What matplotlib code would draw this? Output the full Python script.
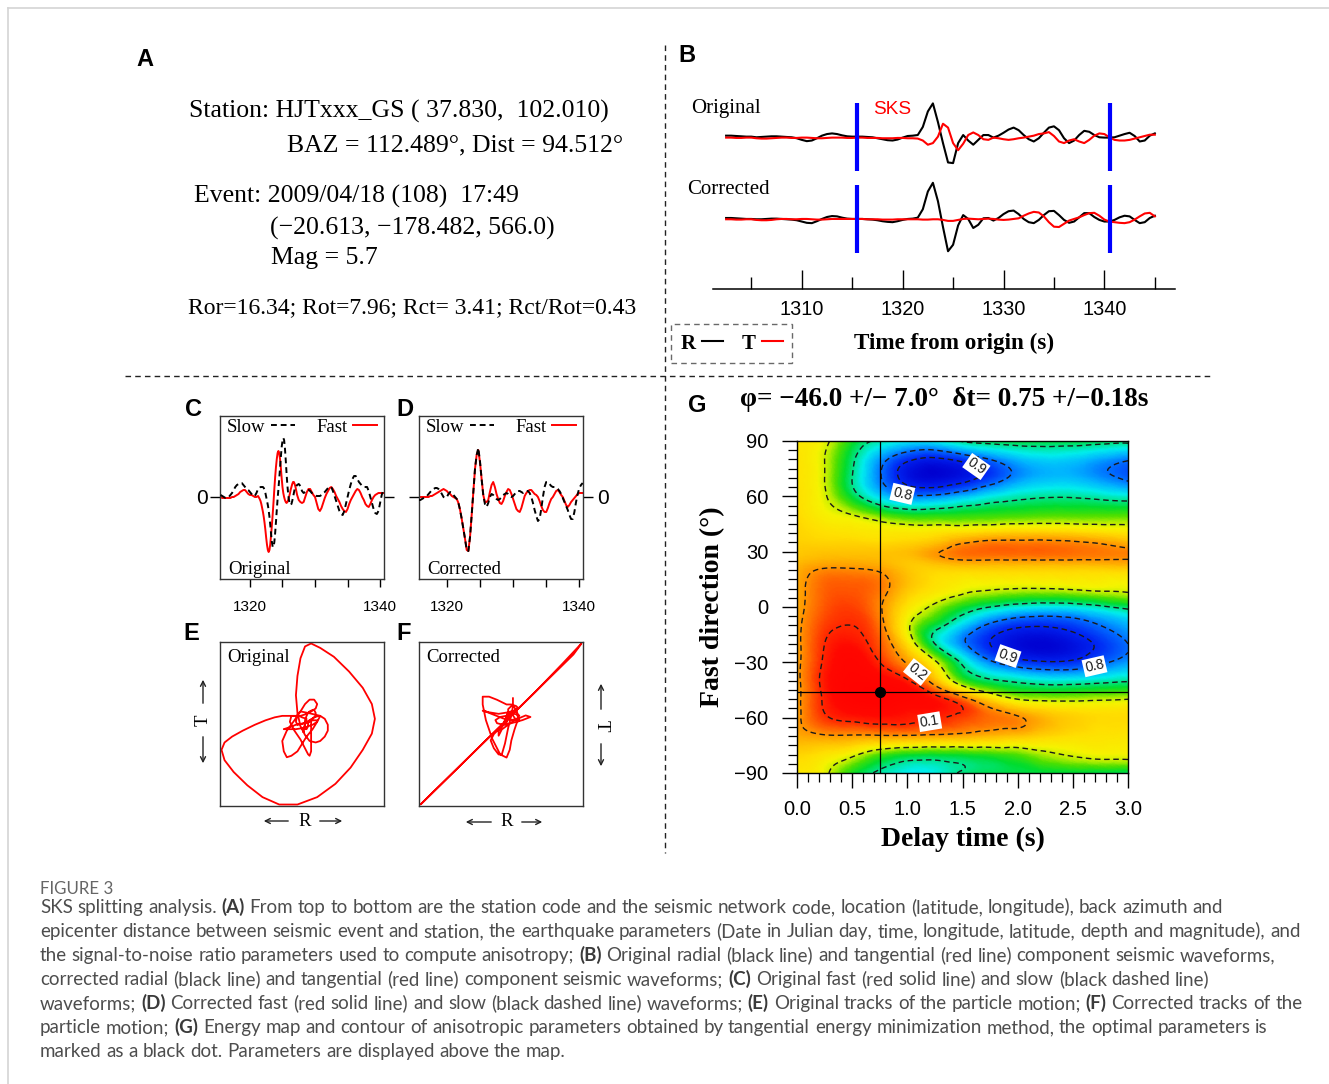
import numpy as np
import matplotlib
matplotlib.use('Agg')
import matplotlib.pyplot as plt
from matplotlib.lines import Line2D
from matplotlib.patches import FancyArrowPatch
from matplotlib.colors import LinearSegmentedColormap
from matplotlib.ticker import MultipleLocator, FormatStrFormatter
import matplotlib.tri as mtri

W, H = 1329, 1084
SERIF = 'Liberation Serif'
SANS = 'Liberation Sans'
CAPF = 'Lato'

# ---------------- DATA ----------------
# Panel A
STATION = 'Station: HJTxxx_GS ( 37.830,  102.010)'
BAZ_DIST = 'BAZ = 112.489°, Dist = 94.512°'
EVENT = 'Event: 2009/04/18 (108)  17:49'
HYPO = '(−20.613, −178.482, 566.0)'
MAG = 'Mag = 5.7'
SNR = 'Ror=16.34; Rot=7.96; Rct= 3.41; Rct/Rot=0.43'

# Panel B : waveforms sampled every 0.5 s from 1302.5 s
B_T0, B_DT = 1302.5, 0.5
ORIG_R = [3, 3, 2, 1, 0, 0, -2, -1, 0, 1, 1, 0, -1, -2, -5, -10, -14, -12, -5, 3,
          8, 10, 8, 4, 1, 0, 0, 0, -1, -2, -5, -8, -11, -12, -9, -3, 2, 3, 5, 30,
          78, 103, 45, -20, -80, -82, -20, 5, -12, -25, -10, 5, 5, -3, 3, 12, 22, 28, 20, 5,
          -8, -15, -5, 12, 28, 32, 20, -5, -20, -12, 5, 18, 15, 5, -2, -3, -3, -2, 3, 8,
          12, 2, -15, -12, 3, 10]
ORIG_T = [-3, -3, -4, -4, -3, -3, -5, -6, -6, -5, -4, -3, -3, -4, -4, -3, -3, -4, -5, -5,
          -4, -3, -3, -3, -4, -4, -3, -3, -4, -4, -4, -5, -5, -5, -4, -4, -5, -5, -6, -12,
          -25, -20, 0, 40, 28, -20, -42, -22, 5, 13, 5, -8, -10, -3, -5, -8, -10, -8, -5, -3,
          0, 3, 8, 10, 14, 2, -15, -20, -12, -8, -15, -20, -10, 3, 10, 8, -2, -10, -12, -12,
          -10, -6, -2, 2, 6, 6]
CORR_R = [3, 3, 2, 1, 0, 0, -1, -1, 0, 1, 1, 0, -1, -2, -4, -8, -12, -13, -7, 0,
          6, 9, 8, 4, 1, 0, 0, 0, -1, -2, -4, -7, -9, -10, -7, -3, 0, 1, 4, 30,
          85, 112, 55, -25, -100, -80, -20, 12, 0, -28, -18, 2, 3, -5, 3, 15, 24, 26, 15, 0,
          -10, -13, -3, 12, 24, 25, 12, -3, -12, -8, 5, 18, 18, 6, -3, -8, -8, -3, 5, 10,
          8, -3, -13, -10, 3, 10]
CORR_T = [-1, -1, -2, -2, -1, -1, -3, -4, -4, -3, -1, 0, 0, -1, -1, 0, 0, -1, -2, -2,
          -1, 0, 0, 0, 0, 0, 0, 0, -1, -1, -1, -2, -2, -2, -1, -1, -1, -1, -1, -2,
          -2, -1, -1, -3, -6, -6, -3, 0, 1, 0, -1, 0, 1, 0, -2, -3, -2, 0, 2, 10,
          17, 22, 20, 8, -10, -24, -25, -15, -5, 0, 5, 12, 18, 19, 10, -2, -8, -10, -12, -13,
          -10, -2, 8, 17, 19, 8]
WINDOW = [1315.5, 1340.6]

# Panel C : original fast / slow. Sampled every 0.25 s, but every 0.125 s
# across the SKS pulse (1321.5-1327.0 s)
C_SEGMENTS = [(1315.5, 0.25, 24), (1321.5, 0.125, 44), (1327.0, 0.25, 55)]
C_FAST = [0, -1, -1, -1, -1, -1, -1, 0, 0, 1, 2, 3, 5, 6, 7, 7, 5, 3, 2, 2, 1, 0, 0, 1,
          -2, -4, -7, -11, -15, -20, -26, -33, -41, -48, -53, -55, -53, -47, -38, -28, -17, -5, 8, 20,
          30, 38, 44, 46, 44, 38, 29, 19, 10, 4, 0, -3, -5, -6, -5, -3, 0, 3, 7, 10, 13, 15, 15, 13,
          10, 2, -3, -5, -6, -5, 0, 5, 8, 8, 5, 2, 0, -6, -12, -14, -11, -6, -1, 3, 6, 9, 10, 8,
          5, 1, -2, -5, -9, -12, -14, -15, -12, -7, -3, 0, 3, 6, 8, 7, 4, 0, -3, -7, -9, -10, -7, -3,
          0, 2, 3, 4, 4, 4, 4]
C_SLOW = [2, 1, 0, -1, -1, 0, 2, 4, 7, 10, 12, 13, 14, 14, 12, 10, 8, 7, 5, 3, 1, 1, 4, 8,
          9, 10, 10, 10, 10, 9, 7, 4, 0, -4, -8, -13, -20, -28, -37, -45, -50, -50, -45, -36,
          -25, -13, -2, 8, 18, 29, 40, 50, 56, 59, 57, 49, 37, 24, 12, 3, -3, -7, -8, -7, -4, 0, 4, 8,
          10, 12, 13, 11, 6, 4, 5, 7, 7, 6, 4, 3, 2, 1, 1, 1, 2, 4, 5, 7, 9, 10, 10, 6,
          1, -4, -9, -14, -17, -18, -14, -7, 0, 7, 13, 18, 21, 21, 18, 15, 13, 11, 10, 10, 10, 6,
          0, -6, -12, -16, -17, -14, -6, 2, 7]

# Panel D : corrected fast / slow, every 0.25 s from 1315.75 s
D_T0, D_DT = 1315.75, 0.25
D_FAST = [0, 0, 0, 0, 0, 0, 0, 1, 1, 2, 3, 4, 5, 6, 7, 8, 7, 6, 4, 3,
          1, 0, -1, -2, -6, -13, -22, -32, -42, -53, -54, -40, -18, 5, 28, 42, 47, 35, 18, 2,
          -5, -5, -3, 5, 12, 15, 10, 3, -2, -6, -7, -4, 1, 5, 8, 7, 3, -2, -7, -12,
          -14, -15, -11, -5, 1, 4, 6, 7, 7, 5, 3, 2, 0, -4, -9, -13, -15, -15, -11, -6,
          -2, 0, 3, 6, 7, 5, 2, 0, -4, -8, -10, -8, -5, -3, -1, 1, 3, 4, 4, 4]
D_SLOW = [-3, -3, -2, -1, 0, 1, 3, 5, 7, 8, 9, 9, 8, 6, 3, 0, -1, 0, 3, 5,
          4, 2, 0, -2, -6, -13, -22, -32, -42, -53, -54, -40, -18, 5, 28, 42, 49, 36, 18, 2,
          -7, -10, -6, 0, 3, 2, 0, -2, -3, -2, 0, 2, 3, 4, 3, 1, 0, 1, 3, 5,
          6, 6, 5, 4, 5, 6, 6, 4, 0, -6, -13, -19, -24, -22, -12, 0, 10, 15, 15, 13,
          11, 10, 10, 9, 8, 6, 3, -1, -5, -9, -13, -18, -22, -22, -15, -5, 3, 9, 12, 14]

# Panel G : normalised tangential energy grid
DT = [0.0, 0.25, 0.5, 0.75, 1.0, 1.25, 1.5, 1.75, 2.0, 2.25, 2.5, 2.75, 3.0]
PHI = [90, 80, 70, 60, 50, 40, 35, 30, 25, 20, 10, 0, -10, -20, -30, -40, -50, -60, -70, -80, -90]
ENERGY = [
    [0.34, 0.38, 0.52, 0.62, 0.67, 0.66, 0.59, 0.56, 0.55, 0.55, 0.55, 0.56, 0.57],
    [0.33, 0.40, 0.58, 0.76, 0.88, 0.92, 0.87, 0.80, 0.73, 0.70, 0.71, 0.75, 0.79],
    [0.33, 0.40, 0.60, 0.79, 0.94, 0.98, 0.94, 0.86, 0.77, 0.73, 0.73, 0.77, 0.82],
    [0.32, 0.39, 0.55, 0.70, 0.78, 0.78, 0.73, 0.67, 0.63, 0.61, 0.61, 0.63, 0.65],
    [0.31, 0.36, 0.40, 0.47, 0.52, 0.52, 0.51, 0.50, 0.49, 0.48, 0.48, 0.48, 0.48],
    [0.30, 0.32, 0.33, 0.34, 0.34, 0.33, 0.31, 0.29, 0.28, 0.28, 0.29, 0.31, 0.33],
    [0.29, 0.30, 0.30, 0.31, 0.30, 0.27, 0.21, 0.18, 0.18, 0.18, 0.19, 0.21, 0.25],
    [0.28, 0.27, 0.27, 0.27, 0.26, 0.21, 0.16, 0.15, 0.15, 0.15, 0.16, 0.17, 0.18],
    [0.26, 0.24, 0.24, 0.25, 0.27, 0.24, 0.21, 0.21, 0.21, 0.21, 0.21, 0.21, 0.21],
    [0.24, 0.19, 0.19, 0.21, 0.27, 0.30, 0.30, 0.30, 0.30, 0.30, 0.30, 0.30, 0.30],
    [0.23, 0.15, 0.14, 0.17, 0.27, 0.33, 0.37, 0.39, 0.40, 0.40, 0.39, 0.38, 0.38],
    [0.23, 0.14, 0.12, 0.19, 0.33, 0.42, 0.52, 0.60, 0.65, 0.67, 0.66, 0.62, 0.57],
    [0.22, 0.12, 0.10, 0.17, 0.38, 0.55, 0.70, 0.82, 0.88, 0.89, 0.86, 0.80, 0.74],
    [0.22, 0.10, 0.07, 0.14, 0.32, 0.60, 0.78, 0.90, 0.97, 0.99, 0.95, 0.88, 0.80],
    [0.22, 0.09, 0.04, 0.10, 0.21, 0.38, 0.62, 0.78, 0.86, 0.89, 0.88, 0.82, 0.76],
    [0.22, 0.08, 0.03, 0.04, 0.09, 0.25, 0.48, 0.58, 0.62, 0.65, 0.65, 0.63, 0.61],
    [0.22, 0.09, 0.03, 0.02, 0.04, 0.07, 0.16, 0.30, 0.40, 0.42, 0.42, 0.41, 0.40],
    [0.22, 0.11, 0.08, 0.07, 0.08, 0.09, 0.12, 0.16, 0.19, 0.25, 0.29, 0.31, 0.31],
    [0.23, 0.21, 0.21, 0.21, 0.21, 0.22, 0.23, 0.25, 0.27, 0.30, 0.32, 0.33, 0.34],
    [0.30, 0.33, 0.38, 0.47, 0.52, 0.53, 0.52, 0.50, 0.47, 0.42, 0.39, 0.37, 0.37],
    [0.34, 0.38, 0.52, 0.62, 0.67, 0.66, 0.59, 0.56, 0.55, 0.55, 0.55, 0.56, 0.57],
]
PLAIN_LEVELS = [0.4, 0.6]
LABELED_LEVELS = [0.1, 0.2, 0.8, 0.9]
BEST_PHI, ERR_PHI = -46.0, 7.0
BEST_DT, ERR_DT = 0.75, 0.18

CAPTION_TITLE = 'FIGURE 3'
CAPTION = [
    'SKS splitting analysis. (A) From top to bottom are the station code and the seismic network code, location (latitude, longitude), back azimuth and',
    'epicenter distance between seismic event and station, the earthquake parameters (Date in Julian day, time, longitude, latitude, depth and magnitude), and',
    'the signal-to-noise ratio parameters used to compute anisotropy; (B) Original radial (black line) and tangential (red line) component seismic waveforms,',
    'corrected radial (black line) and tangential (red line) component seismic waveforms; (C) Original fast (red solid line) and slow (black dashed line)',
    'waveforms; (D) Corrected fast (red solid line) and slow (black dashed line) waveforms; (E) Original tracks of the particle motion; (F) Corrected tracks of the',
    'particle motion; (G) Energy map and contour of anisotropic parameters obtained by tangential energy minimization method, the optimal parameters is',
    'marked as a black dot. Parameters are displayed above the map.',
]

# ---------------- FIGURE ----------------
fig = plt.figure(figsize=(W / 100, H / 100), dpi=100)
fig.patch.set_facecolor('white')


def fx(x):
    return x / W


def fy(y):
    return 1 - y / H


def add_ax(l, t, r, b):
    return fig.add_axes([l / W, 1 - b / H, (r - l) / W, (b - t) / H])


def ftext(x, y, s, **kw):
    kw.setdefault('va', 'center')
    return fig.text(fx(x), fy(y), s, **kw)


def fline(x1, y1, x2, y2, **kw):
    fig.add_artist(Line2D([fx(x1), fx(x2)], [fy(y1), fy(y2)], transform=fig.transFigure, **kw))


def farrow(x1, y1, x2, y2):
    fig.add_artist(FancyArrowPatch((fx(x1), fy(y1)), (fx(x2), fy(y2)), transform=fig.transFigure,
                                   arrowstyle='->', mutation_scale=9, lw=1.0, color='#222222'))


# card border
fline(8, 8, W, 8, color='#d4d4d4', lw=1.2)
fline(8, 8, 8, H, color='#d4d4d4', lw=1.2)

# dashed dividers
fline(665, 45, 665, 853, color='#222222', lw=1.0, ls=(0, (4, 3)))
fline(125, 376, 1212, 376, color='#222222', lw=1.0, ls=(0, (4, 3)))

# panel letters
for s, x, y in [('A', 145, 60), ('B', 687, 56), ('C', 194, 410), ('D', 405, 410),
                ('E', 191, 634), ('F', 404, 634), ('G', 697, 406)]:
    ftext(x, y, s, family=SANS, weight='bold', fontsize=17, ha='center')

# ---- Panel A ----
ftext(189, 111, STATION, family=SERIF, fontsize=18.5)
ftext(287, 145, BAZ_DIST, family=SERIF, fontsize=18.5)
ftext(194, 196, EVENT, family=SERIF, fontsize=18.5)
ftext(270, 228, HYPO, family=SERIF, fontsize=18.5)
ftext(271, 258, MAG, family=SERIF, fontsize=18.5)
ftext(188, 308, SNR, family=SERIF, fontsize=17)

# ---- Panel B ----
axB = add_ax(713, 95, 1175, 289)
tB = B_T0 + B_DT * np.arange(len(ORIG_R))
OFF_O, OFF_C = 0.0, -255.0
lR, = axB.plot(tB, np.array(ORIG_R) + OFF_O, color='k', lw=1.5)
lT, = axB.plot(tB, np.array(ORIG_T) + OFF_O, color='#ff0000', lw=1.5)
axB.plot(tB, np.array(CORR_R) + OFF_C, color='k', lw=1.5)
axB.plot(tB, np.array(CORR_T) + OFF_C, color='#ff0000', lw=1.5)
for off in (OFF_O, OFF_C):
    axB.vlines(WINDOW, off - 107, off + 104, color='#0000ff', lw=3.0, zorder=4)
axB.set_xlim(1301.2, 1347.0)
axB.set_ylim(-472, 129)
for sp in ('top', 'left', 'right'):
    axB.spines[sp].set_visible(False)
axB.spines['bottom'].set_linewidth(1.1)
axB.set_yticks([])
axB.xaxis.set_major_locator(MultipleLocator(10))
axB.xaxis.set_minor_locator(MultipleLocator(5))
axB.tick_params(axis='x', which='major', direction='in', length=14, width=1.0, labelsize=14.3, pad=8)
axB.tick_params(axis='x', which='minor', direction='in', length=9, width=1.0)
for lab in axB.get_xticklabels():
    lab.set_family(SANS)
axB.patch.set_alpha(0)
axB.set_xlabel('Time from origin (s)', family=SERIF, weight='bold', fontsize=16.7, va='center')
axB.xaxis.set_label_coords((954 - 713) / 462, -(343 - 289) / 194)
ftext(691, 108, 'Original', family=SERIF, fontsize=15)
ftext(687, 189, 'Corrected', family=SERIF, fontsize=15)
ftext(873, 109, 'SKS', family=SANS, fontsize=13.7, color='#ff0000')
legB = fig.legend(handles=[lR, lT], labels=['R', 'T'], loc='center', bbox_to_anchor=(fx(731.5), fy(343.5)),
                  ncol=2, markerfirst=False, frameon=True, fancybox=False, edgecolor='#444444',
                  prop=dict(family=SERIF, weight='bold', size=15), handlelength=1.0, handletextpad=0.3,
                  columnspacing=0.9, borderpad=0.45)
legB.get_frame().set_linestyle((0, (4, 3)))
legB.get_frame().set_linewidth(1.0)


# ---- Panels C, D ----
def wave_panel(box, t, fast, slow, xlim, zero_side, label, label_x):
    ax = add_ax(*box)
    lf, = ax.plot(t, fast, color='#ff0000', lw=1.4, zorder=2)
    ls, = ax.plot(t, slow, color='k', lw=1.4, dashes=(3.0, 2.0), zorder=3)
    ax.set_xlim(*xlim)
    ax.set_ylim(-82, 81)
    xt = [1320, 1325, 1330, 1335, 1340]
    ax.set_xticks(xt, labels=[str(v) if v in (1320, 1340) else '' for v in xt])
    ax.tick_params(axis='x', direction='out', length=6, width=1.0, labelsize=11, pad=9)
    ax.set_yticks([0], labels=['0'])
    ax.tick_params(axis='y', direction='out', length=7, width=1.0, labelsize=15, left=True, right=True,
                   labelleft=(zero_side == 'left'), labelright=(zero_side == 'right'),
                   pad=1.5 if zero_side == 'left' else 3)
    for lab in ax.get_xticklabels() + ax.get_yticklabels():
        lab.set_family(SANS)
    for sp in ax.spines.values():
        sp.set_color('#333333')
        sp.set_linewidth(1.0)
    ax.legend(handles=[ls, lf], labels=['Slow', 'Fast'], loc='upper center', ncol=2, markerfirst=False,
              frameon=False, prop=dict(family=SERIF, size=13.5), handlelength=1.3, handletextpad=0.3,
              columnspacing=1.1, borderaxespad=0.0, borderpad=0.15)
    ftext(label_x, 569, label, family=SERIF, fontsize=13.5)
    return ax


tC = np.concatenate([s + d * np.arange(n) for s, d, n in C_SEGMENTS])
tD = D_T0 + D_DT * np.arange(len(D_FAST))
wave_panel((220, 416, 384, 579), tC, C_FAST, C_SLOW, (1315.4, 1340.6), 'left', 'Original', 228)
wave_panel((419, 416, 583, 579), tD, D_FAST, D_SLOW, (1315.8, 1340.55), 'right', 'Corrected', 427)


# ---- Panels E, F ----
def pm_panel(box, fast, slow, xlim, ylim, label, label_x):
    ax = add_ax(*box)
    ax.plot(fast, slow, color='#ff0000', lw=1.3)
    ax.set_xlim(*xlim)
    ax.set_ylim(*ylim)
    ax.set_xticks([])
    ax.set_yticks([])
    for sp in ax.spines.values():
        sp.set_color('#333333')
        sp.set_linewidth(1.0)
    ftext(label_x, 658, label, family=SERIF, fontsize=13.5)
    return ax


pm_panel((220, 642, 384, 806), C_FAST, C_SLOW, (-56, 52), (-51, 60), 'Original', 227)
pm_panel((419, 642, 583, 806), D_FAST, D_SLOW, (-55, 48), (-55, 50), 'Corrected', 426)

# R / T arrows
ftext(305, 821, 'R', family=SERIF, fontsize=13.5, ha='center')
farrow(291, 821, 261, 821)
farrow(317, 821, 345, 821)
ftext(507, 822, 'R', family=SERIF, fontsize=13.5, ha='center')
farrow(494, 822, 463, 822)
farrow(519, 822, 545, 822)
ftext(203, 720, 'T', family=SERIF, fontsize=13.5, ha='center', rotation=90)
farrow(203, 706, 203, 677)
farrow(203, 734, 203, 766)
ftext(601, 726, 'T', family=SERIF, fontsize=13.5, ha='center', rotation=-90)
farrow(601, 712, 601, 681)
farrow(601, 741, 601, 769)

# ---- Panel G ----
axG = add_ax(797, 441, 1128, 773)
cmap = LinearSegmentedColormap.from_list('emap', [
    (0.00, '#ff0000'), (0.06, '#ff0800'), (0.10, '#ff2a00'), (0.15, '#ff6400'), (0.20, '#ff9600'),
    (0.26, '#ffc000'), (0.32, '#ffe000'), (0.37, '#f6f400'), (0.42, '#b4ee00'), (0.47, '#50e000'),
    (0.54, '#00dc30'), (0.61, '#00e69a'), (0.67, '#00eeee'), (0.74, '#00b4ff'), (0.81, '#0068ff'),
    (0.89, '#0028f4'), (1.00, '#0000d0')])

SC = 60.0  # isotropic scaling used only for interpolation geometry
nr, nc = len(PHI), len(DT)
Tg, Pg = np.meshgrid(np.array(DT) * SC, np.array(PHI, dtype=float))
tris = []
for i in range(nr - 1):
    for j in range(nc - 1):
        a = i * nc + j
        b = a + 1
        c = a + nc
        d = c + 1
        tris.append([a, b, d])
        tris.append([a, d, c])
tri_s = mtri.Triangulation(Tg.ravel(), Pg.ravel(), np.array(tris))
refiner = mtri.UniformTriRefiner(tri_s)
tri_r, z_r = refiner.refine_field(np.array(ENERGY).ravel(), subdiv=4)
tri_p = mtri.Triangulation(tri_r.x / SC, tri_r.y, tri_r.triangles)
axG.tripcolor(tri_p, np.clip(z_r, 0, 1), shading='gouraud', cmap=cmap, vmin=0, vmax=1)
axG.set_xlim(0, 3)
axG.set_ylim(-90, 90)
DASH = [(0, (4, 2.6))]
axG.tricontour(tri_p, z_r, levels=PLAIN_LEVELS, colors='#1a1a1a', linewidths=1.0, linestyles=DASH)
cs = axG.tricontour(tri_p, z_r, levels=LABELED_LEVELS, colors='#1a1a1a', linewidths=1.0, linestyles=DASH)
labs = axG.clabel(cs, manual=[(1.6, 73), (0.95, 60), (1.91, -27), (2.7, -33), (1.08, -36), (1.2, -61)],
                  inline=True, inline_spacing=4, fmt='%.1f', fontsize=10)
for t in labs:
    t.set_family(SANS)
    t.set_bbox(dict(boxstyle='square,pad=0.12', fc='white', ec='none'))
axG.axvline(BEST_DT, color='k', lw=0.9)
axG.axhline(BEST_PHI, color='k', lw=0.9)
axG.plot([BEST_DT], [BEST_PHI], 'o', color='k', ms=7)
axG.xaxis.set_major_locator(MultipleLocator(0.5))
axG.xaxis.set_minor_locator(MultipleLocator(0.1))
axG.yaxis.set_major_locator(MultipleLocator(30))
axG.yaxis.set_minor_locator(MultipleLocator(5))
axG.xaxis.set_major_formatter(FormatStrFormatter('%.1f'))
axG.tick_params(axis='both', which='major', direction='out', length=11, width=1.0, labelsize=14.5)
axG.tick_params(axis='both', which='minor', direction='out', length=6.5, width=0.9)
axG.tick_params(axis='x', which='major', pad=8.5)
axG.tick_params(axis='y', which='major', pad=9.5)
for lab in axG.get_xticklabels() + axG.get_yticklabels():
    lab.set_family(SANS)
for sp in axG.spines.values():
    sp.set_linewidth(1.0)
axG.set_xlabel('Delay time (s)', family=SERIF, weight='bold', fontsize=20, va='center')
axG.xaxis.set_label_coords(0.5, -(839 - 773) / 332)
axG.set_ylabel('Fast direction (°)', family=SERIF, weight='bold', fontsize=20, va='center', ha='center')
axG.yaxis.set_label_coords(-(797 - 713) / 331, 0.5)
ftext(944, 400, f'φ= −{abs(BEST_PHI):.1f} +/− {ERR_PHI:.1f}°  δt= {BEST_DT:.2f} +/−{ERR_DT:.2f}s',
      family=SERIF, weight='bold', fontsize=19.5, ha='center')

# ---- Caption ----
renderer = fig.canvas.get_renderer()
CAP_COLOR = '#4d4d4d'


def text_w(s, size, bold=False):
    t = fig.text(0, 0, s, fontsize=size, family=CAPF, weight='bold' if bold else 'normal')
    w = t.get_window_extent(renderer).width
    t.remove()
    return w


def is_bold(word):
    return len(word) == 3 and word[0] == '(' and word[2] == ')' and word[1].isupper()


def line_width(line, size):
    words = line.split(' ')
    sp = text_w('a a', size) - text_w('aa', size)
    return sum(text_w(w, size, is_bold(w)) for w in words) + sp * (len(words) - 1)


size0 = 12.0
cap_size = size0 * (1298 - 40) / line_width(CAPTION[1], size0)
space_w = text_w('a a', cap_size) - text_w('aa', cap_size)
ftext(40, 889, CAPTION_TITLE, family=CAPF, fontsize=cap_size * 0.9, color='#666666')
for i, line in enumerate(CAPTION):
    yb = 908 + 24 * i + 5
    x = 40.0
    for w in line.split(' '):
        b = is_bold(w)
        fig.text(fx(x), fy(yb), w, fontsize=cap_size, family=CAPF, weight='bold' if b else 'normal',
                 color='#3a3a3a' if b else CAP_COLOR, va='baseline', ha='left')
        x += text_w(w, cap_size, b) + space_w

fig.savefig('out.png', dpi=100, facecolor='white')
